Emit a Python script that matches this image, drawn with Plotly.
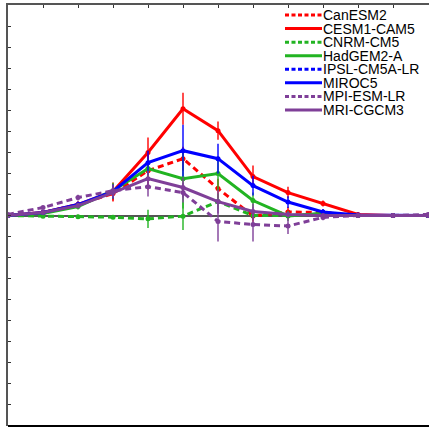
import plotly.graph_objects as go

x_index = list(range(13))

models = ["CanESM2", "CESM1-CAM5", "CNRM-CM5", "HadGEM2-A",
          "IPSL-CM5A-LR", "MIROC5", "MPI-ESM-LR", "MRI-CGCM3"]

canesm2 = [0, 0.014, 0.052, 0.104, 0.213, 0.270, 0.128, -0.002, 0.017, 0.014, 0, 0, 0]
cesm1 = [0, 0.014, 0.052, 0.114, 0.299, 0.507, 0.403, 0.185, 0.109, 0.057, 0.005, 0, 0]
cnrm = [0, -0.003, -0.006, -0.008, -0.016, -0.003, 0.066, 0, 0, 0.009, 0, 0, 0]
hadgem = [0, 0.009, 0.043, 0.118, 0.223, 0.175, 0.199, 0.071, -0.002, 0.009, 0, 0, 0]
ipsl = [None] * 13
miroc5 = [0, 0.014, 0.052, 0.114, 0.251, 0.308, 0.270, 0.142, 0.064, 0.017, 0.002, 0, 0]
mpi = [0.005, 0.038, 0.085, 0.118, 0.137, 0.109, -0.028, -0.043, -0.050, -0.009, 0, 0, 0.005]
mri = [0, 0.014, 0.047, 0.109, 0.175, 0.133, 0.066, 0.019, 0.005, 0, 0, 0, 0]

err_canesm2 = [0, 0.005, 0.014, 0.038, 0.090, 0.057, 0.047, 0.028, 0.024, 0.014, 0.005, 0, 0]
err_cesm1 = [0, 0.005, 0.014, 0.043, 0.071, 0.076, 0.043, 0.052, 0.028, 0.014, 0.005, 0, 0]
err_cnrm = [0, 0.005, 0.009, 0.009, 0.043, 0.066, 0.038, 0.014, 0.009, 0.009, 0.005, 0, 0]
err_hadgem = [0, 0.005, 0.014, 0.038, 0.047, 0.142, 0.081, 0.038, 0.024, 0.014, 0.005, 0, 0]
err_ipsl = [None] * 13
err_miroc5 = [0, 0.005, 0.014, 0.033, 0.057, 0.123, 0.071, 0.047, 0.028, 0.014, 0.005, 0, 0]
err_mpi = [0, 0.005, 0.014, 0.028, 0.047, 0.047, 0.095, 0.081, 0.038, 0.014, 0.005, 0, 0]
err_mri = [0, 0.005, 0.014, 0.028, 0.038, 0.047, 0.057, 0.038, 0.014, 0.009, 0.005, 0, 0]

values = [canesm2, cesm1, cnrm, hadgem, ipsl, miroc5, mpi, mri]
errors = [err_canesm2, err_cesm1, err_cnrm, err_hadgem, err_ipsl, err_miroc5, err_mpi, err_mri]

RED, GREEN, BLUE, PURPLE = "#ff0000", "#22b422", "#0000ff", "#7f3f98"
RGB = {RED: "255,0,0", GREEN: "34,180,34", BLUE: "0,0,255", PURPLE: "127,63,152"}
colors = [RED, RED, GREEN, GREEN, BLUE, BLUE, PURPLE, PURPLE]
dashes = ["6px,4px", "solid", "6px,4px", "solid", "6px,4px", "solid", "6px,4px", "solid"]

fig = go.Figure()
for name, y, e, c, d in zip(models, values, errors, colors, dashes):
    fig.add_trace(go.Scatter(
        x=x_index, y=y, name=name, mode="lines+markers",
        line=dict(color=c, width=3, dash=d),
        marker=dict(color=c, size=5),
        error_y=dict(type="data", array=e, visible=True,
                     color="rgba(%s,0.7)" % RGB[c], thickness=2, width=0),
        showlegend=False,
    ))

W, H = 429, 430
ml, mr, mt, mb = 8, 0, 5, 4
pw, ph = W - ml - mr, H - mt - mb

def px_x(p):
    return (p - ml) / pw

def px_y(p):
    return (H - mb - p) / ph

shapes = [dict(type="line", xref="paper", yref="paper", x0=0, x1=1, y0=0, y1=0,
               line=dict(color="black", width=2))]
annotations = []
row0, row_step = 15, 13.57
for i, (name, c, d) in enumerate(zip(models, colors, dashes)):
    yy = px_y(row0 + i * row_step)
    shapes.append(dict(type="line", xref="paper", yref="paper",
                       x0=px_x(285), x1=px_x(322), y0=yy, y1=yy,
                       line=dict(color=c, width=3, dash="4px,2.5px" if d != "solid" else "solid")))
    annotations.append(dict(xref="paper", yref="paper", x=px_x(322), y=yy,
                            xanchor="left", yanchor="middle", text=name, showarrow=False,
                            borderpad=0,
                            font=dict(family="Liberation Sans, Arial", size=14, color="black")))

fig.update_layout(
    width=W, height=H,
    margin=dict(l=ml, r=mr, t=mt, b=mb),
    paper_bgcolor="white", plot_bgcolor="white",
    showlegend=False,
    shapes=shapes, annotations=annotations,
    xaxis=dict(range=[0, 12 * pw / 420], side="top", showline=True, linecolor="#555555",
               linewidth=2, ticks="inside", ticklen=3, tickcolor="#333333",
               tick0=0, dtick=1, showticklabels=False, showgrid=False, zeroline=False),
    yaxis=dict(range=[-1, 1], showline=True, linecolor="#555555", linewidth=2,
               ticks="inside", ticklen=3, tickcolor="#333333", tick0=0, dtick=0.1,
               showticklabels=False, showgrid=False, zeroline=True,
               zerolinecolor="#555555", zerolinewidth=2),
)

fig.write_html("out.html", config={"displayModeBar": False},
               post_script="document.body.style.margin='0px';document.body.style.overflow='hidden';")
